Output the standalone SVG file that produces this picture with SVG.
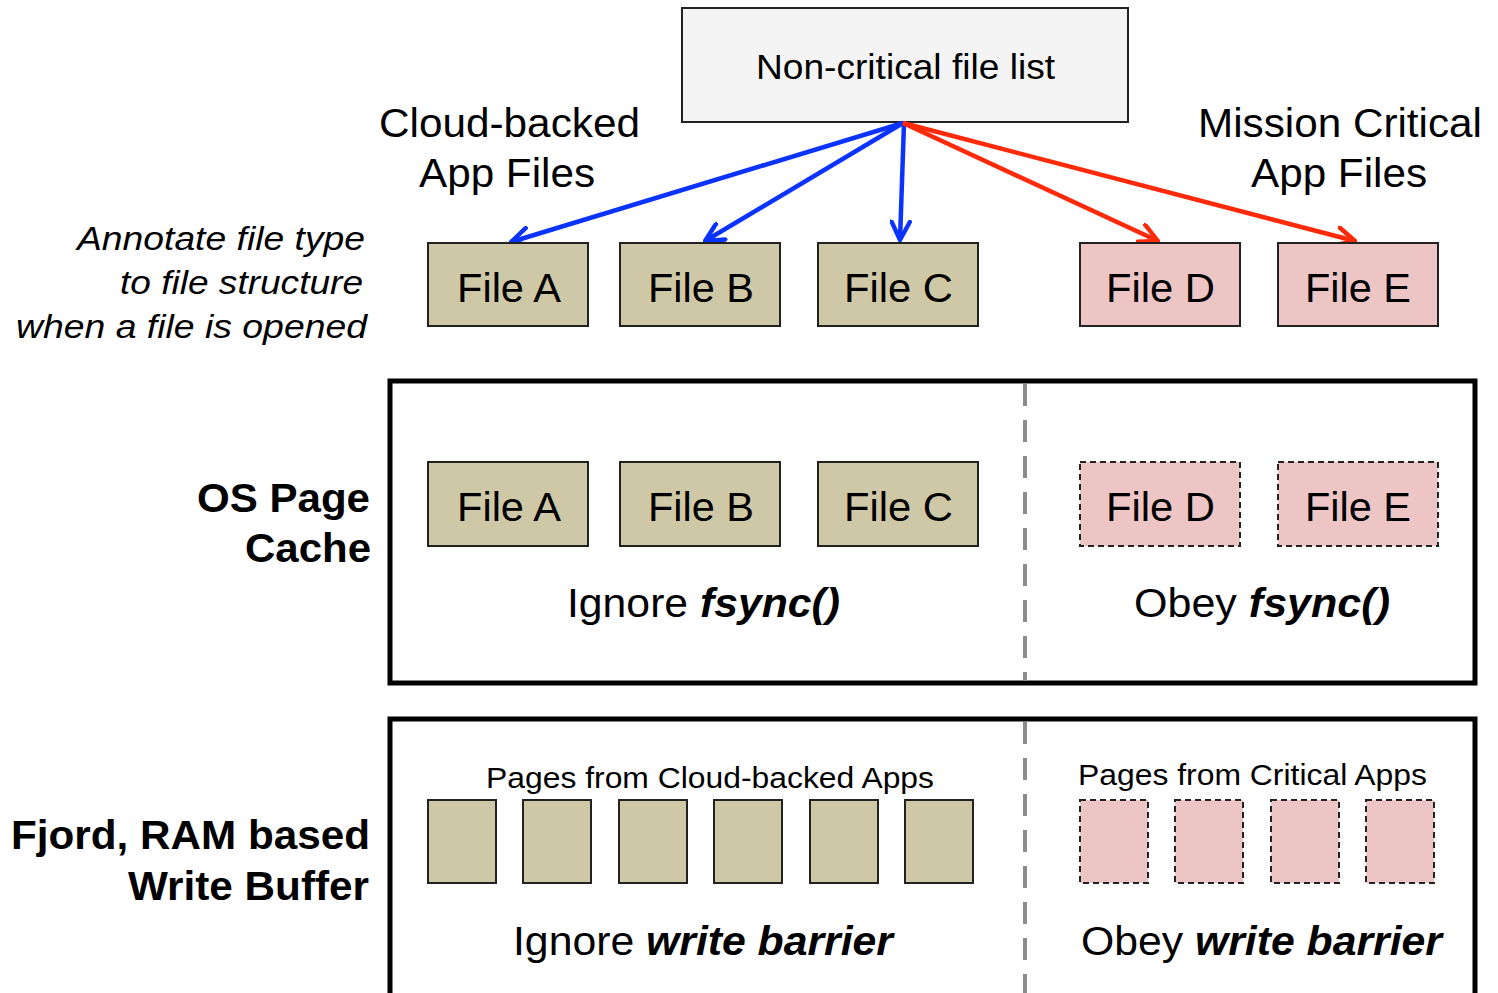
<svg xmlns="http://www.w3.org/2000/svg" width="1498" height="993" viewBox="0 0 1498 993">
<defs>
<style>
text{font-family:"Liberation Sans",Arial,sans-serif;fill:#000}
.tan{fill:#cfc8a7;stroke:#222;stroke-width:2}
.pink{fill:#ecc5c4;stroke:#222;stroke-width:2}
.pinkd{fill:#ecc5c4;stroke:#222;stroke-width:2;stroke-dasharray:6,4}
.lbl{font-size:40px;text-anchor:middle}
.frame{fill:none;stroke:#000;stroke-width:5}
.div{stroke:#8c8c8c;stroke-width:4;stroke-dasharray:22,14}
.blue{stroke:#0b33ff;stroke-width:4.5;fill:none}
.red{stroke:#ff2a0a;stroke-width:4.5;fill:none}
</style>
<marker id="ab" viewBox="0 0 12 12" refX="11" refY="6" markerWidth="22" markerHeight="22" markerUnits="userSpaceOnUse" orient="auto"><path d="M1,1 L11,6 L1,11" fill="none" stroke="#0b33ff" stroke-width="2.4" stroke-linecap="round" stroke-linejoin="round"/></marker>
<marker id="ar" viewBox="0 0 12 12" refX="11" refY="6" markerWidth="22" markerHeight="22" markerUnits="userSpaceOnUse" orient="auto"><path d="M1,1 L11,6 L1,11" fill="none" stroke="#ff2a0a" stroke-width="2.4" stroke-linecap="round" stroke-linejoin="round"/></marker>
</defs>
<rect width="1498" height="993" fill="#fff"/>

<g id="list">
<rect x="682" y="8" width="446" height="114" fill="#f4f4f4" stroke="#222" stroke-width="2"/>
<text x="905.5" y="79" font-size="35" text-anchor="middle" textLength="299" lengthAdjust="spacingAndGlyphs">Non-critical file list</text>
</g>

<g id="labels">
<text x="509.5" y="137" font-size="40" text-anchor="middle" textLength="261" lengthAdjust="spacingAndGlyphs">Cloud-backed</text>
<text x="507" y="187" font-size="40" text-anchor="middle" textLength="176" lengthAdjust="spacingAndGlyphs">App Files</text>
<text x="1340" y="137" font-size="40" text-anchor="middle" textLength="284" lengthAdjust="spacingAndGlyphs">Mission Critical</text>
<text x="1339" y="187" font-size="40" text-anchor="middle" textLength="176" lengthAdjust="spacingAndGlyphs">App Files</text>
<g font-size="34" font-style="italic" text-anchor="end">
<text x="365" y="250" textLength="288" lengthAdjust="spacingAndGlyphs">Annotate file type</text>
<text x="363" y="294" textLength="243" lengthAdjust="spacingAndGlyphs">to file structure</text>
<text x="367" y="338" textLength="351" lengthAdjust="spacingAndGlyphs">when a file is opened</text>
</g>
<g font-size="40" font-weight="bold" text-anchor="end">
<text x="370" y="512" textLength="173" lengthAdjust="spacingAndGlyphs">OS Page</text>
<text x="371" y="562" textLength="126" lengthAdjust="spacingAndGlyphs">Cache</text>
<text x="370" y="849" textLength="359" lengthAdjust="spacingAndGlyphs">Fjord, RAM based</text>
<text x="369" y="900" textLength="241" lengthAdjust="spacingAndGlyphs">Write Buffer</text>
</g>
</g>

<g id="connectors">
<line class="blue" x1="903" y1="123" x2="511" y2="242" marker-end="url(#ab)"/>
<line class="blue" x1="903" y1="123" x2="705" y2="241" marker-end="url(#ab)"/>
<line class="blue" x1="904" y1="123" x2="900" y2="240" marker-end="url(#ab)"/>
<line class="red" x1="903" y1="123" x2="1158" y2="241" marker-end="url(#ar)"/>
<line class="red" x1="903" y1="123" x2="1355" y2="241" marker-end="url(#ar)"/>
</g>

<g id="fileA1"><rect class="tan" x="428" y="243" width="160" height="83"/><text class="lbl" x="509" y="302" textLength="104" lengthAdjust="spacingAndGlyphs">File A</text></g>
<g id="fileB1"><rect class="tan" x="620" y="243" width="160" height="83"/><text class="lbl" x="701" y="302" textLength="106" lengthAdjust="spacingAndGlyphs">File B</text></g>
<g id="fileC1"><rect class="tan" x="818" y="243" width="160" height="83"/><text class="lbl" x="898.5" y="302" textLength="109" lengthAdjust="spacingAndGlyphs">File C</text></g>
<g id="fileD1"><rect class="pink" x="1080" y="243" width="160" height="83"/><text class="lbl" x="1160.5" y="302" textLength="109" lengthAdjust="spacingAndGlyphs">File D</text></g>
<g id="fileE1"><rect class="pink" x="1278" y="243" width="160" height="83"/><text class="lbl" x="1358" y="302" textLength="106" lengthAdjust="spacingAndGlyphs">File E</text></g>

<g id="pagecache">
<rect class="frame" x="390" y="381" width="1085" height="302"/>
<line class="div" x1="1025" y1="384" x2="1025" y2="681"/>
<text x="703.5" y="617" font-size="40" text-anchor="middle" textLength="273" lengthAdjust="spacingAndGlyphs">Ignore <tspan font-weight="bold" font-style="italic">fsync()</tspan></text>
<text x="1262" y="617" font-size="40" text-anchor="middle" textLength="256" lengthAdjust="spacingAndGlyphs">Obey <tspan font-weight="bold" font-style="italic">fsync()</tspan></text>
</g>
<g id="fileA2"><rect class="tan" x="428" y="462" width="160" height="84"/><text class="lbl" x="509" y="521" textLength="104" lengthAdjust="spacingAndGlyphs">File A</text></g>
<g id="fileB2"><rect class="tan" x="620" y="462" width="160" height="84"/><text class="lbl" x="701" y="521" textLength="106" lengthAdjust="spacingAndGlyphs">File B</text></g>
<g id="fileC2"><rect class="tan" x="818" y="462" width="160" height="84"/><text class="lbl" x="898.5" y="521" textLength="109" lengthAdjust="spacingAndGlyphs">File C</text></g>
<g id="fileD2"><rect class="pinkd" x="1080" y="462" width="160" height="84"/><text class="lbl" x="1160.5" y="521" textLength="109" lengthAdjust="spacingAndGlyphs">File D</text></g>
<g id="fileE2"><rect class="pinkd" x="1278" y="462" width="160" height="84"/><text class="lbl" x="1358" y="521" textLength="106" lengthAdjust="spacingAndGlyphs">File E</text></g>

<g id="fjord">
<path class="frame" d="M390,995 V719 H1475 V995"/>
<line class="div" x1="1025" y1="722" x2="1025" y2="993"/>
<text x="710" y="788" font-size="30" text-anchor="middle" textLength="448" lengthAdjust="spacingAndGlyphs">Pages from Cloud-backed Apps</text>
<text x="1252.5" y="785" font-size="30" text-anchor="middle" textLength="349" lengthAdjust="spacingAndGlyphs">Pages from Critical Apps</text>
<text x="703" y="955" font-size="40" text-anchor="middle" textLength="380" lengthAdjust="spacingAndGlyphs">Ignore <tspan font-weight="bold" font-style="italic">write barrier</tspan></text>
<text x="1261.5" y="955" font-size="40" text-anchor="middle" textLength="361" lengthAdjust="spacingAndGlyphs">Obey <tspan font-weight="bold" font-style="italic">write barrier</tspan></text>
</g>
<g id="pagesCloud">
<rect class="tan" x="428" y="800" width="68" height="83"/>
<rect class="tan" x="523" y="800" width="68" height="83"/>
<rect class="tan" x="619" y="800" width="68" height="83"/>
<rect class="tan" x="714" y="800" width="68" height="83"/>
<rect class="tan" x="810" y="800" width="68" height="83"/>
<rect class="tan" x="905" y="800" width="68" height="83"/>
</g>
<g id="pagesCritical">
<rect class="pinkd" x="1080" y="800" width="68" height="83"/>
<rect class="pinkd" x="1175" y="800" width="68" height="83"/>
<rect class="pinkd" x="1271" y="800" width="68" height="83"/>
<rect class="pinkd" x="1366" y="800" width="68" height="83"/>
</g>
</svg>
